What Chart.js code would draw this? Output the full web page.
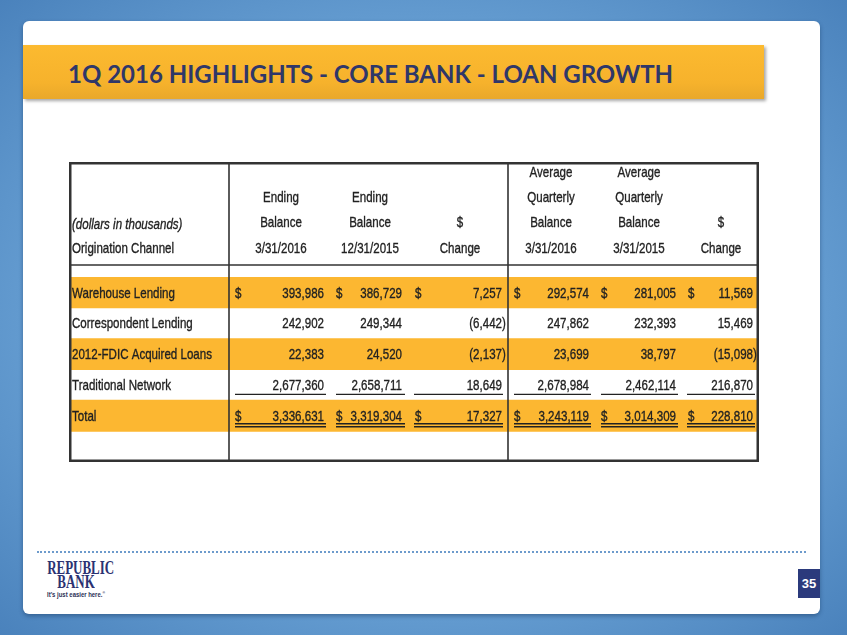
<!DOCTYPE html>
<html>
<head>
<meta charset="utf-8">
<script src="https://cdn.jsdelivr.net/npm/chart.js@4.4.1/dist/chart.umd.min.js"></script>
<style>
  html, body { margin: 0; padding: 0; }
  body {
    width: 847px; height: 635px; position: relative; overflow: hidden;
    background: radial-gradient(ellipse at 50% 50%, #86b8e2 0%, #6ba3d6 55%, #4a82bc 100%);
    font-family: "Liberation Sans", Arial, sans-serif;
  }
  #card {
    position: absolute; left: 23px; top: 21px; width: 797px; height: 593px;
    background: #fff; border-radius: 6px;
    box-shadow: 0 2px 4px rgba(20, 50, 90, 0.45);
  }
  #banner {
    position: absolute; left: 23px; top: 45px; width: 741px; height: 54px;
    background: linear-gradient(#fcba30, #f6b22c 70%, #e9a82a);
    box-shadow: 2px 2px 3px rgba(0, 0, 0, 0.35);
  }
  #title {
    position: absolute; left: 68px; top: 59px; margin: 0;
    font-family: Lato, "Open Sans", sans-serif; font-weight: 700; font-size: 24px;
    color: #2f3769; white-space: nowrap;
  }
  #chart { position: absolute; left: 69px; top: 162px; }
  #dots {
    position: absolute; left: 37px; top: 551px; width: 769px; height: 0;
    border-top: 2px dotted #6d9bcc;
  }
  #logo { position: absolute; left: 36px; top: 561px; width: 80px; text-align: center; color: #2b3272; }
  #logo .l1, #logo .l2 {
    font-family: "Liberation Serif", serif; font-weight: 700; font-size: 18px; line-height: 14px;
    transform: scaleX(0.72);
  }
  #logo .tag {
    font-size: 7px; color: #2b2f55; margin-top: 1px; font-weight: 700;
    transform: scaleX(0.85);
  }
  #page {
    position: absolute; left: 798px; top: 569px; width: 22px; height: 29px;
    background: #2b3a7c; color: #fff; font: 700 13px "Liberation Sans", Arial, sans-serif;
    text-align: center; line-height: 29px;
  }
</style>
</head>
<body>
<div id="card"></div>
<div id="banner"></div>
<h1 id="title">1Q 2016 HIGHLIGHTS - CORE BANK - LOAN GROWTH</h1>
<canvas id="chart" width="690" height="300"></canvas>
<div id="dots"></div>
<div id="logo">
  <div class="l1">REPUBLIC</div>
  <div class="l2">BANK</div>
  <div class="tag">It's just easier here.<sup style="font-size:4px">®</sup></div>
</div>
<div id="page">35</div>
<script>
const categories = ["Warehouse Lending", "Correspondent Lending", "2012-FDIC Acquired Loans", "Traditional Network", "Total"];
const endBal2016 = [393986, 242902, 22383, 2677360, 3336631];
const endBal2015 = [386729, 249344, 24520, 2658711, 3319304];
const endChange = [7257, -6442, -2137, 18649, 17327];
const avgBal2016 = [292574, 247862, 23699, 2678984, 3243119];
const avgBal2015 = [281005, 232393, 38797, 2462114, 3014309];
const avgChange = [11569, 15469, -15098, 216870, 228810];

const headers = [
  ["", "Ending", "Balance", "3/31/2016"],
  ["", "Ending", "Balance", "12/31/2015"],
  ["", "", "$", "Change"],
  ["Average", "Quarterly", "Balance", "3/31/2016"],
  ["Average", "Quarterly", "Balance", "3/31/2015"],
  ["", "", "$", "Change"],
];
const columns = [endBal2016, endBal2015, endChange, avgBal2016, avgBal2015, avgChange];
const dollarRows = [0, 4];

// layout (canvas pixels)
const W = 690, H = 300;
const colRight = [255, 333, 433, 520, 607, 684];
const colDollar = [166, 267, 346, 445, 532, 619];
const colLine = [[166, 257], [267, 336], [345, 434], [445, 522], [532, 609], [618, 686]];
const colCenter = [212, 301, 391, 482, 570, 652];
const headY = [11, 36, 61, 87];
const dividers = [160, 439];
const FONT = '15px "Liberation Sans", Arial, sans-serif';
const NARROW = 0.77;
const ORANGE = "#fcb731";
const INK = "#222";

const rowLabels = categories.concat([""]);
const bands = rowLabels.map((c, i) => (i % 2 === 0 && c !== "" ? [0, W] : null));

function fmt(v) {
  return Math.abs(v).toLocaleString("en-US");
}

// narrow text, like Arial Narrow
function txt(ctx, s, x, y, align, italic) {
  ctx.save();
  ctx.translate(x, y);
  ctx.scale(NARROW, 1);
  ctx.font = (italic ? "italic " : "") + FONT;
  ctx.textAlign = align;
  ctx.textBaseline = "middle";
  ctx.lineWidth = 0.35;
  ctx.strokeStyle = INK;
  ctx.fillText(s, 0, 0);
  ctx.strokeText(s, 0, 0);
  ctx.restore();
}

const tablePlugin = {
  id: "tableText",
  afterDatasetsDraw(chart) {
    const ctx = chart.ctx;
    const y = chart.scales.y;
    const x = chart.scales.x;
    ctx.save();
    ctx.fillStyle = INK;

    // header
    const lx = x.getPixelForValue(3);
    txt(ctx, "(dollars in thousands)", lx, headY[2] + 2, "left", true);
    txt(ctx, "Origination Channel", lx, headY[3], "left");
    headers.forEach((lines, c) => {
      lines.forEach((t, k) => {
        if (t) txt(ctx, t, x.getPixelForValue(colCenter[c]), headY[k], "center");
      });
    });

    // rows
    categories.forEach((name, r) => {
      const py = y.getPixelForValue(r) + 1;
      txt(ctx, name, lx, py, "left");
      columns.forEach((vals, c) => {
        const v = vals[r];
        const xr = x.getPixelForValue(colRight[c]);
        if (v < 0) {
          txt(ctx, "(" + fmt(v), xr, py, "right");
          txt(ctx, ")", xr, py, "left");
        } else {
          txt(ctx, fmt(v), xr, py, "right");
        }
        if (dollarRows.includes(r)) {
          txt(ctx, "$", x.getPixelForValue(colDollar[c]), py, "left");
        }
      });
    });

    // underlines
    ctx.strokeStyle = INK;
    ctx.lineWidth = 1.3;
    const ySingle = y.getPixelForValue(3) + 9.5;
    const yTotal = y.getPixelForValue(4);
    colLine.forEach(([a, b]) => {
      [ySingle, yTotal + 8, yTotal + 11].forEach((ly) => {
        ctx.beginPath();
        ctx.moveTo(x.getPixelForValue(a), ly);
        ctx.lineTo(x.getPixelForValue(b), ly);
        ctx.stroke();
      });
    });

    // grid
    ctx.strokeStyle = "#333";
    ctx.lineWidth = 1.6;
    dividers.forEach((d) => {
      ctx.beginPath();
      ctx.moveTo(x.getPixelForValue(d), 0);
      ctx.lineTo(x.getPixelForValue(d), H);
      ctx.stroke();
    });
    ctx.beginPath();
    ctx.moveTo(0, 103);
    ctx.lineTo(W, 103);
    ctx.stroke();
    ctx.lineWidth = 2.5;
    ctx.strokeRect(1.25, 1.25, W - 2.5, H - 2.5);
    ctx.restore();
  },
};

new Chart(document.getElementById("chart"), {
  type: "bar",
  data: {
    labels: rowLabels,
    datasets: [
      {
        data: bands,
        backgroundColor: ORANGE,
        borderWidth: 0,
        barPercentage: 1.03,
        categoryPercentage: 1,
      },
    ],
  },
  options: {
    indexAxis: "y",
    responsive: false,
    animation: false,
    layout: { padding: { top: 115, left: 0, right: 0, bottom: 0 } },
    scales: {
      x: { type: "linear", min: 0, max: W, display: false },
      y: { type: "category", display: false },
    },
    plugins: { legend: { display: false }, tooltip: { enabled: false } },
  },
  plugins: [tablePlugin],
});
</script>
</body>
</html>
